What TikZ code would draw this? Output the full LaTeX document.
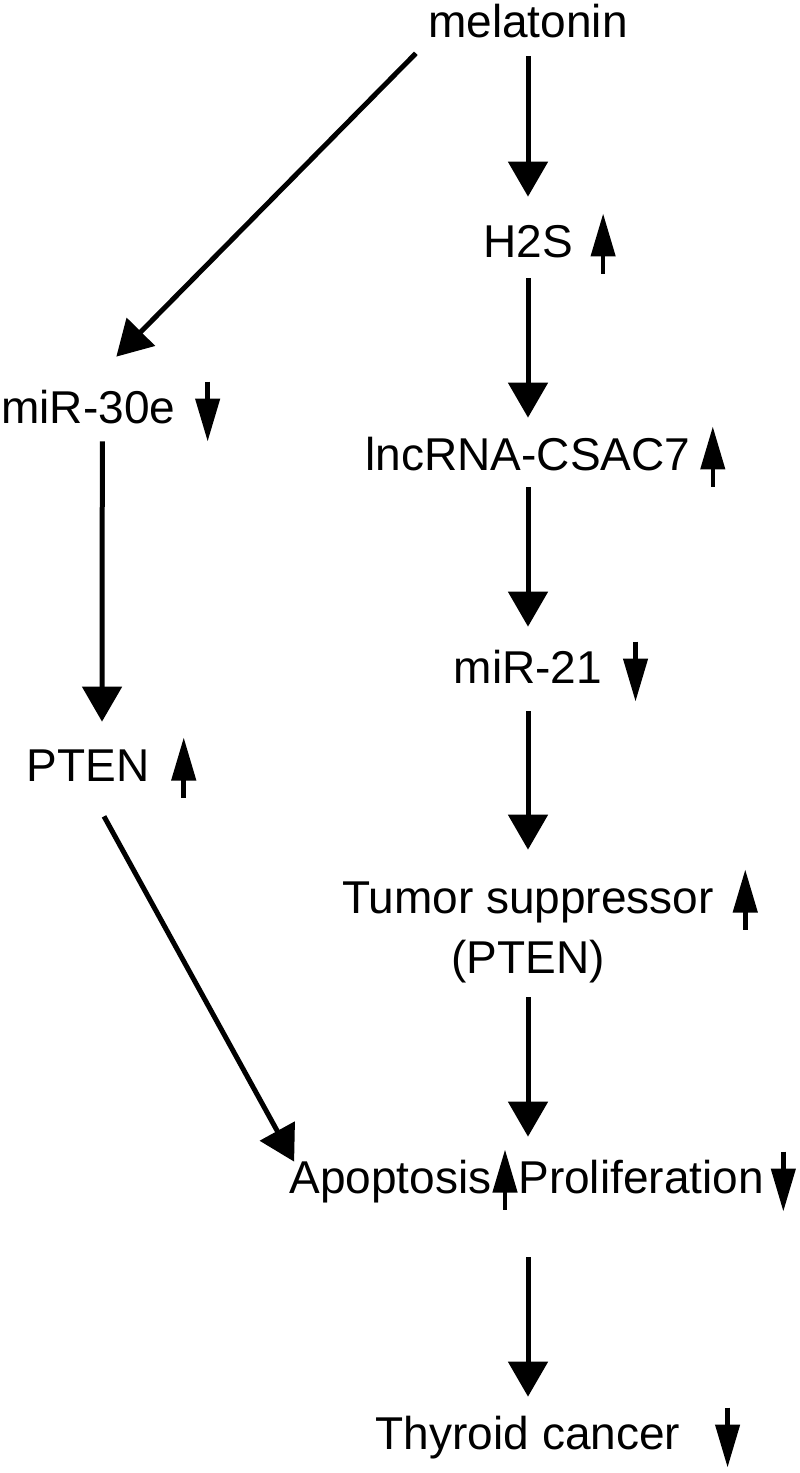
\documentclass[tikz,border=0pt]{standalone}
\usepackage{fontspec}
\setmainfont{Liberation Sans}
\usetikzlibrary{arrows.meta,calc}

\begin{document}
\begin{tikzpicture}[x=0.02cm, y=-0.02cm,
    lbl/.style={inner sep=0pt, text height=0.66cm, text depth=0pt, font=\fontsize{26.2}{31}\selectfont},
    flow/.style={line width=0.1cm, -{Triangle[length=0.7cm, width=0.78cm]}},
    ind/.style={line width=0.09cm, -{Triangle[length=0.86cm, width=0.48cm]}}]
  \useasboundingbox (0,0) rectangle (800,1473);
  % Define labels
  \node[lbl, anchor=base] (mel) at (528,38) {melatonin};
  \node[lbl, anchor=base] (h2s) at (528,257) {H2S};
  \node[lbl, anchor=base] (lnc) at (528,470) {lncRNA-CSAC7};
  \node[lbl, anchor=base] (mir21) at (528,683) {miR-21};
  \node[lbl, anchor=base] (tsup) at (528,913) {Tumor suppressor};
  \node[lbl, anchor=base] (tpten) at (528,973) {(PTEN)};
  \node[lbl, anchor=base east] (apop) at (492,1193) {Apoptosis};
  \node[lbl, anchor=base west] (prol) at (518,1193) {Proliferation};
  \node[lbl, anchor=base] (thy) at (528,1449) {Thyroid cancer};
  \node[lbl, anchor=base west] (mir30) at (1,423) {miR-30e};
  \node[lbl, anchor=base] (pten) at (88,781) {PTEN};
  % Draw pathway arrows
  \draw[flow, shorten <=0.36cm, shorten >=0.54cm] (mel.south) -- (h2s.north);
  \draw[flow, shorten <=0.42cm, shorten >=0.38cm] (h2s.south) -- (lnc.north);
  \draw[flow, shorten <=0.34cm, shorten >=0.46cm] (lnc.south) -- (mir21.north);
  \draw[flow, shorten <=0.56cm, shorten >=0.6cm] (mir21.south) -- (tsup.north);
  \draw[flow, shorten <=0.48cm, shorten >=0.46cm] (tpten.south) -- (tpten.south |- prol.north);
  \draw[flow, shorten <=1.28cm, shorten >=0.38cm] (tpten.south |- prol.south) -- (thy.north);
  \draw[flow] ($(mel.south west)+(-12,15)$) -- ($(mir30.north)+(28,-33)$);
  \draw[flow] ($(mir30.south)+(14,18)$) -- ($(pten.north)+(14,-26)$);
  \draw[flow] ($(pten.south)+(16,35)$) -- ($(apop.north west)+(5,2)$);
  % Up and down markers
  \draw[ind] ($(h2s.east)+(30,33)$) -- ++(0,-60);
  \draw[ind] ($(lnc.east)+(22,33)$) -- ++(0,-60);
  \draw[ind] ($(mir21.east)+(33,-25)$) -- ++(0,60);
  \draw[ind] ($(tsup.east)+(31,33)$) -- ++(0,-60);
  \draw[ind] ($(apop.east)+(13,33)$) -- ++(0,-60);
  \draw[ind] ($(prol.east)+(19,-25)$) -- ++(0,60);
  \draw[ind] ($(thy.east)+(47,-25)$) -- ++(0,60);
  \draw[ind] ($(mir30.east)+(32,-25)$) -- ++(0,60);
  \draw[ind] ($(pten.east)+(34,33)$) -- ++(0,-60);
\end{tikzpicture}
\end{document}
